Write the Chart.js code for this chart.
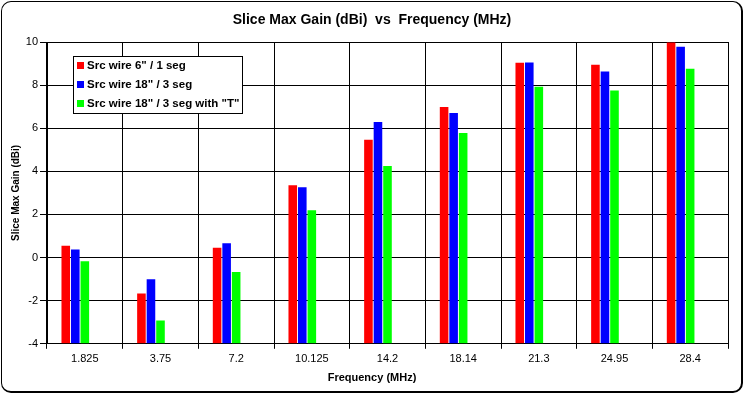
<!DOCTYPE html>
<html>
<head>
<meta charset="utf-8">
<script src="https://cdn.jsdelivr.net/npm/chart.js@4/dist/chart.umd.min.js"></script>
<style>
  body { margin: 0; background: #fff; }
  #wrap { position: relative; width: 744px; height: 394px; }
  #frame {
    position: absolute; left: 1px; top: 1px; width: 742px; height: 392px;
    box-sizing: border-box; border: 1px solid #000;
    border-right-width: 2px; border-bottom-width: 2px;
    border-radius: 10px; pointer-events: none;
  }
</style>
</head>
<body>
<div id="wrap">
  <canvas id="gainChart" width="744" height="394"></canvas>
  <div id="frame"></div>
</div>
<script>
// Slice max gain per frequency, three source wire setups
const frequencies = ['1.825', '3.75', '7.2', '10.125', '14.2', '18.14', '21.3', '24.95', '28.4'];
const wire6 = [0.55, -1.67, 0.46, 3.36, 5.46, 6.99, 9.04, 8.94, 9.98];
const wire18 = [0.38, -1.01, 0.66, 3.26, 6.29, 6.71, 9.05, 8.63, 9.78];
const wire18T = [-0.17, -2.92, -0.67, 2.20, 4.25, 5.78, 7.92, 7.75, 8.76];
const emptySeries = [null, null, null, null, null, null, null, null, null];
const yMin = -4, yMax = 10, yStep = 2;

const FONT = 'Arial, "Liberation Sans", sans-serif';

// legend box drawn inside the plot area, like the original
const boxLegend = {
    id: 'boxLegend',
    afterDraw(chart) {
        const ctx = chart.ctx;
        const items = chart.data.datasets.filter(d => d.label);
        const x = 73.5, y = 56.5, w = 169, h = 57;
        ctx.save();
        ctx.fillStyle = '#fff';
        ctx.fillRect(x, y, w, h);
        ctx.strokeStyle = '#000';
        ctx.lineWidth = 1;
        ctx.strokeRect(x, y, w, h);
        ctx.font = 'bold 11.5px ' + FONT;
        ctx.textBaseline = 'middle';
        items.forEach((d, i) => {
            const cy = 66 + i * 19;
            ctx.fillStyle = d.backgroundColor;
            ctx.fillRect(77, cy - 4, 7, 7);
            ctx.fillStyle = '#000';
            ctx.fillText(d.label, 87, cy);
        });
        ctx.restore();
    }
};

document.addEventListener('DOMContentLoaded', function() {
    const ctx = document.getElementById('gainChart').getContext('2d');

    new Chart(ctx, {
        type: 'bar',
        data: {
            labels: frequencies,
            datasets: [
                { label: 'Src wire 6" / 1 seg', data: wire6, backgroundColor: '#ff0000' },
                { label: 'Src wire 18" / 3 seg', data: wire18, backgroundColor: '#0000ff' },
                { label: 'Src wire 18" / 3 seg with "T"', data: wire18T, backgroundColor: '#00ff00' },
                { label: '', data: emptySeries, backgroundColor: '#fff' },
                { label: '', data: emptySeries, backgroundColor: '#fff' }
            ].map(d => Object.assign(d, {
                base: yMin,
                borderWidth: 0,
                categoryPercentage: 0.63,
                barPercentage: 0.9
            }))
        },
        options: {
            responsive: false,
            animation: false,
            layout: { padding: 0 },
            plugins: {
                legend: { display: false },
                tooltip: { enabled: false },
                title: {
                    display: true,
                    text: 'Slice Max Gain (dBi)  vs  Frequency (MHz)',
                    color: '#000',
                    font: { family: FONT, size: 14, weight: 'bold' },
                    padding: { top: 11.6, bottom: 13.6 }
                },
                subtitle: {
                    display: true,
                    position: 'bottom',
                    text: 'Frequency (MHz)',
                    color: '#000',
                    font: { family: FONT, size: 11, weight: 'bold' },
                    padding: { top: 3, bottom: 9 }
                }
            },
            scales: {
                x: {
                    grid: { color: '#000', lineWidth: 1, tickLength: 5 },
                    border: { color: '#000', width: 1 },
                    ticks: { color: '#000', padding: 4, font: { family: FONT, size: 11 } },
                    afterFit: s => { s.height = 25; }
                },
                y: {
                    min: yMin,
                    max: yMax,
                    grid: { color: '#000', lineWidth: 1, tickLength: 7 },
                    border: { color: '#000', width: 1 },
                    ticks: { stepSize: yStep, color: '#000', padding: 2, font: { family: FONT, size: 11 } },
                    title: {
                        display: true,
                        text: 'Slice Max Gain (dBi)',
                        color: '#000',
                        font: { family: FONT, size: 10, weight: 'bold' },
                        padding: { top: 10, bottom: 0 }
                    },
                    afterFit: s => { s.width = 47; }
                },
                pad: {
                    type: 'linear',
                    position: 'right',
                    grid: { display: false },
                    border: { display: false },
                    ticks: { display: false },
                    afterFit: s => { s.width = 16; }
                }
            }
        },
        plugins: [boxLegend]
    });
});
</script>
</body>
</html>
